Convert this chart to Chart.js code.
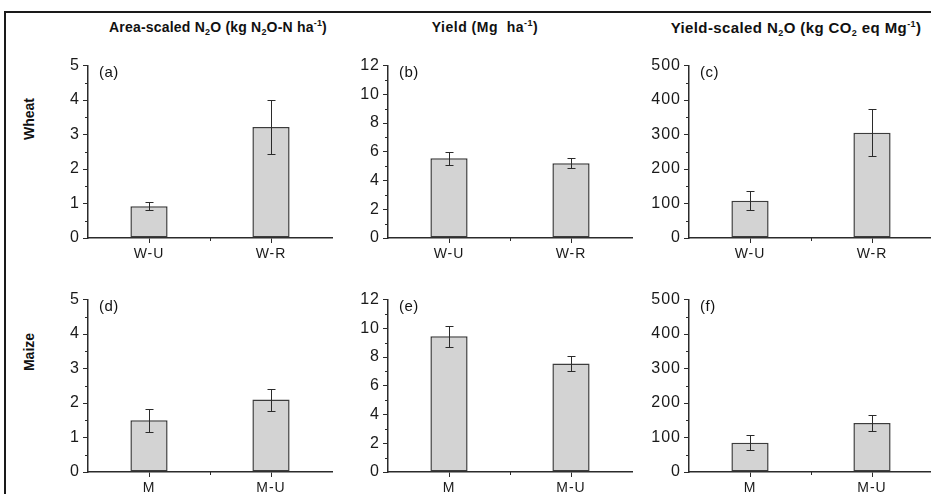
<!DOCTYPE html>
<html>
<head>
<meta charset="utf-8">
<script src="https://cdn.jsdelivr.net/npm/chart.js@4.4.1/dist/chart.umd.min.js"></script>
<style>
  html, body { margin: 0; padding: 0; background: #fff; width: 931px; height: 494px; overflow: hidden; }
  #frame { position: absolute; left: 4px; top: 11px; width: 1000px; height: 600px;
           border-top: 2px solid #1a1a1a; border-left: 2px solid #1a1a1a; }
  .panel { position: absolute; }
  .title { position: absolute; top: 19px; font: bold 14px "Liberation Sans", Arial, sans-serif;
           color: #111; white-space: nowrap; transform: translateX(-50%); }
  .title sub, .title sup { font-size: 9px; line-height: 0; }
  .title sub { vertical-align: -3px; }
  .title sup { vertical-align: 6px; }
  .row { position: absolute; font: bold 14px "Liberation Sans", Arial, sans-serif; color: #111;
         transform: translate(-50%, -50%) rotate(-90deg); white-space: nowrap; }
</style>
</head>
<body>
<div id="frame"></div>

<div class="title" style="left:218px; letter-spacing:0.2px">Area-scaled N<sub>2</sub>O (kg N<sub>2</sub>O-N ha<sup>-1</sup>)</div>
<div class="title" style="left:485px; letter-spacing:0.5px">Yield (Mg&nbsp; ha<sup>-1</sup>)</div>
<div class="title" style="left:796px; font-size:15px; letter-spacing:0.4px">Yield-scaled N<sub>2</sub>O (kg CO<sub>2</sub> eq Mg<sup>-1</sup>)</div>
<div class="row" style="left:29px; top:119px">Wheat</div>
<div class="row" style="left:29px; top:352px">Maize</div>

<canvas id="pa" class="panel"></canvas>
<canvas id="pb" class="panel"></canvas>
<canvas id="pc" class="panel"></canvas>
<canvas id="pd" class="panel"></canvas>
<canvas id="pe" class="panel"></canvas>
<canvas id="pf" class="panel"></canvas>

<script>
// Treatments
const wheatCats = ['W-U', 'W-R'];
const maizeCats = ['M', 'M-U'];

// Area-scaled N2O (kg N2O-N ha-1): means and standard errors
const wheatArea = [0.92, 3.22];
const wheatAreaErr = [0.12, 0.79];
const maizeArea = [1.50, 2.10];
const maizeAreaErr = [0.33, 0.32];

// Yield (Mg ha-1)
const wheatYield = [5.55, 5.20];
const wheatYieldErr = [0.45, 0.36];
const maizeYield = [9.45, 7.55];
const maizeYieldErr = [0.72, 0.50];

// Yield-scaled N2O (kg CO2 eq Mg-1)
const wheatScaled = [108, 305];
const wheatScaledErr = [27, 68];
const maizeScaled = [85, 142];
const maizeScaledErr = [21, 24];

// Axis ranges per column
const yMax = [5, 12, 500];
const yStep = [1, 2, 100];
const panelTags = ['(a)', '(b)', '(c)', '(d)', '(e)', '(f)'];

const AXIS = '#2b2b2b';
const FONT = '"Liberation Sans", Arial, sans-serif';
const Y_W = 50, X_H = 30, PAD_T = 12, PLOT_W = 244, PLOT_H = 173;

// Slightly open letter spacing for the tick labels
const spacing = {
  id: 'spacing',
  beforeLayout(chart) { chart.ctx.letterSpacing = '1px'; },
  beforeDraw(chart) { chart.ctx.letterSpacing = '1px'; }
};

// Error bars, minor ticks and the panel tag
const extras = {
  id: 'extras',
  afterDatasetsDraw(chart, args, opts) {
    const ctx = chart.ctx, xs = chart.scales.x, ys = chart.scales.y;
    const ds = chart.data.datasets[0];
    ctx.save();
    ctx.strokeStyle = AXIS;
    ctx.lineWidth = 1;
    ds.data.forEach((v, i) => {
      const e = opts.err[i];
      const x = Math.round(xs.getPixelForValue(i)) + 0.5;
      const yt = Math.round(ys.getPixelForValue(v + e)) + 0.5;
      const yb = Math.round(ys.getPixelForValue(v - e)) + 0.5;
      ctx.beginPath();
      ctx.moveTo(x, yt); ctx.lineTo(x, yb);
      ctx.moveTo(x - 4, yt); ctx.lineTo(x + 4, yt);
      ctx.moveTo(x - 4, yb); ctx.lineTo(x + 4, yb);
      ctx.stroke();
    });
    ctx.restore();
  },
  afterDraw(chart, args, opts) {
    const ctx = chart.ctx, xs = chart.scales.x, ys = chart.scales.y;
    const a = chart.chartArea;
    ctx.save();
    ctx.strokeStyle = AXIS;
    ctx.lineWidth = 1;
    ctx.beginPath();
    for (let v = ys.min + opts.step / 2; v < ys.max; v += opts.step) {
      const y = Math.round(ys.getPixelForValue(v)) + 0.5;
      ctx.moveTo(a.left - 3, y); ctx.lineTo(a.left, y);
    }
    const xm = Math.round(xs.getPixelForValue(0.5)) + 0.5;
    ctx.moveTo(xm, a.bottom); ctx.lineTo(xm, a.bottom + 3);
    ctx.stroke();
    ctx.letterSpacing = '0.5px';
    ctx.fillStyle = '#111';
    ctx.font = '15px ' + FONT;
    ctx.textBaseline = 'middle';
    ctx.fillText(opts.tag, a.left + 11, a.top + 7);
    ctx.restore();
  }
};

function makePanel(id, left, top, cats, values, errs, col, tag) {
  const cv = document.getElementById(id);
  const w = Y_W + PLOT_W + 2, h = PAD_T + PLOT_H + X_H;
  cv.style.left = (left - Y_W) + 'px';
  cv.style.top = (top - PAD_T) + 'px';
  cv.style.width = w + 'px';
  cv.style.height = h + 'px';
  cv.width = w; cv.height = h;
  new Chart(cv, {
    type: 'bar',
    data: {
      labels: cats,
      datasets: [{
        data: values,
        backgroundColor: '#d3d3d3',
        borderColor: '#3c3c3c',
        borderWidth: 1.5,
        borderSkipped: false,
        barPercentage: 0.305,
        categoryPercentage: 1
      }]
    },
    options: {
      responsive: false,
      animation: false,
      devicePixelRatio: 1,
      layout: { padding: { top: PAD_T, right: 2, left: 0, bottom: 0 } },
      plugins: {
        legend: { display: false },
        tooltip: { enabled: false },
        extras: { err: errs, step: yStep[col], tag: tag }
      },
      scales: {
        x: {
          offset: true,
          grid: { display: true, offset: false, drawOnChartArea: false, drawTicks: true,
                  tickLength: 5, color: AXIS, lineWidth: 1 },
          border: { display: true, color: AXIS, width: 1.5 },
          ticks: { color: '#1a1a1a', font: { family: FONT, size: 14 }, padding: 3,
                   maxRotation: 0, autoSkip: false },
          afterFit(s) { s.height = X_H; }
        },
        y: {
          min: 0, max: yMax[col],
          grid: { display: true, drawOnChartArea: false, drawTicks: true,
                  tickLength: 5, color: AXIS, lineWidth: 1 },
          border: { display: true, color: AXIS, width: 1.5 },
          ticks: { stepSize: yStep[col], color: '#1a1a1a', font: { family: FONT, size: 16 }, padding: 3 },
          afterFit(s) { s.width = Y_W; }
        }
      }
    },
    plugins: [spacing, extras]
  });
}

makePanel('pa', 88, 65, wheatCats, wheatArea, wheatAreaErr, 0, panelTags[0]);
makePanel('pb', 388, 65, wheatCats, wheatYield, wheatYieldErr, 1, panelTags[1]);
makePanel('pc', 689, 65, wheatCats, wheatScaled, wheatScaledErr, 2, panelTags[2]);
makePanel('pd', 88, 299, maizeCats, maizeArea, maizeAreaErr, 0, panelTags[3]);
makePanel('pe', 388, 299, maizeCats, maizeYield, maizeYieldErr, 1, panelTags[4]);
makePanel('pf', 689, 299, maizeCats, maizeScaled, maizeScaledErr, 2, panelTags[5]);
</script>
</body>
</html>
